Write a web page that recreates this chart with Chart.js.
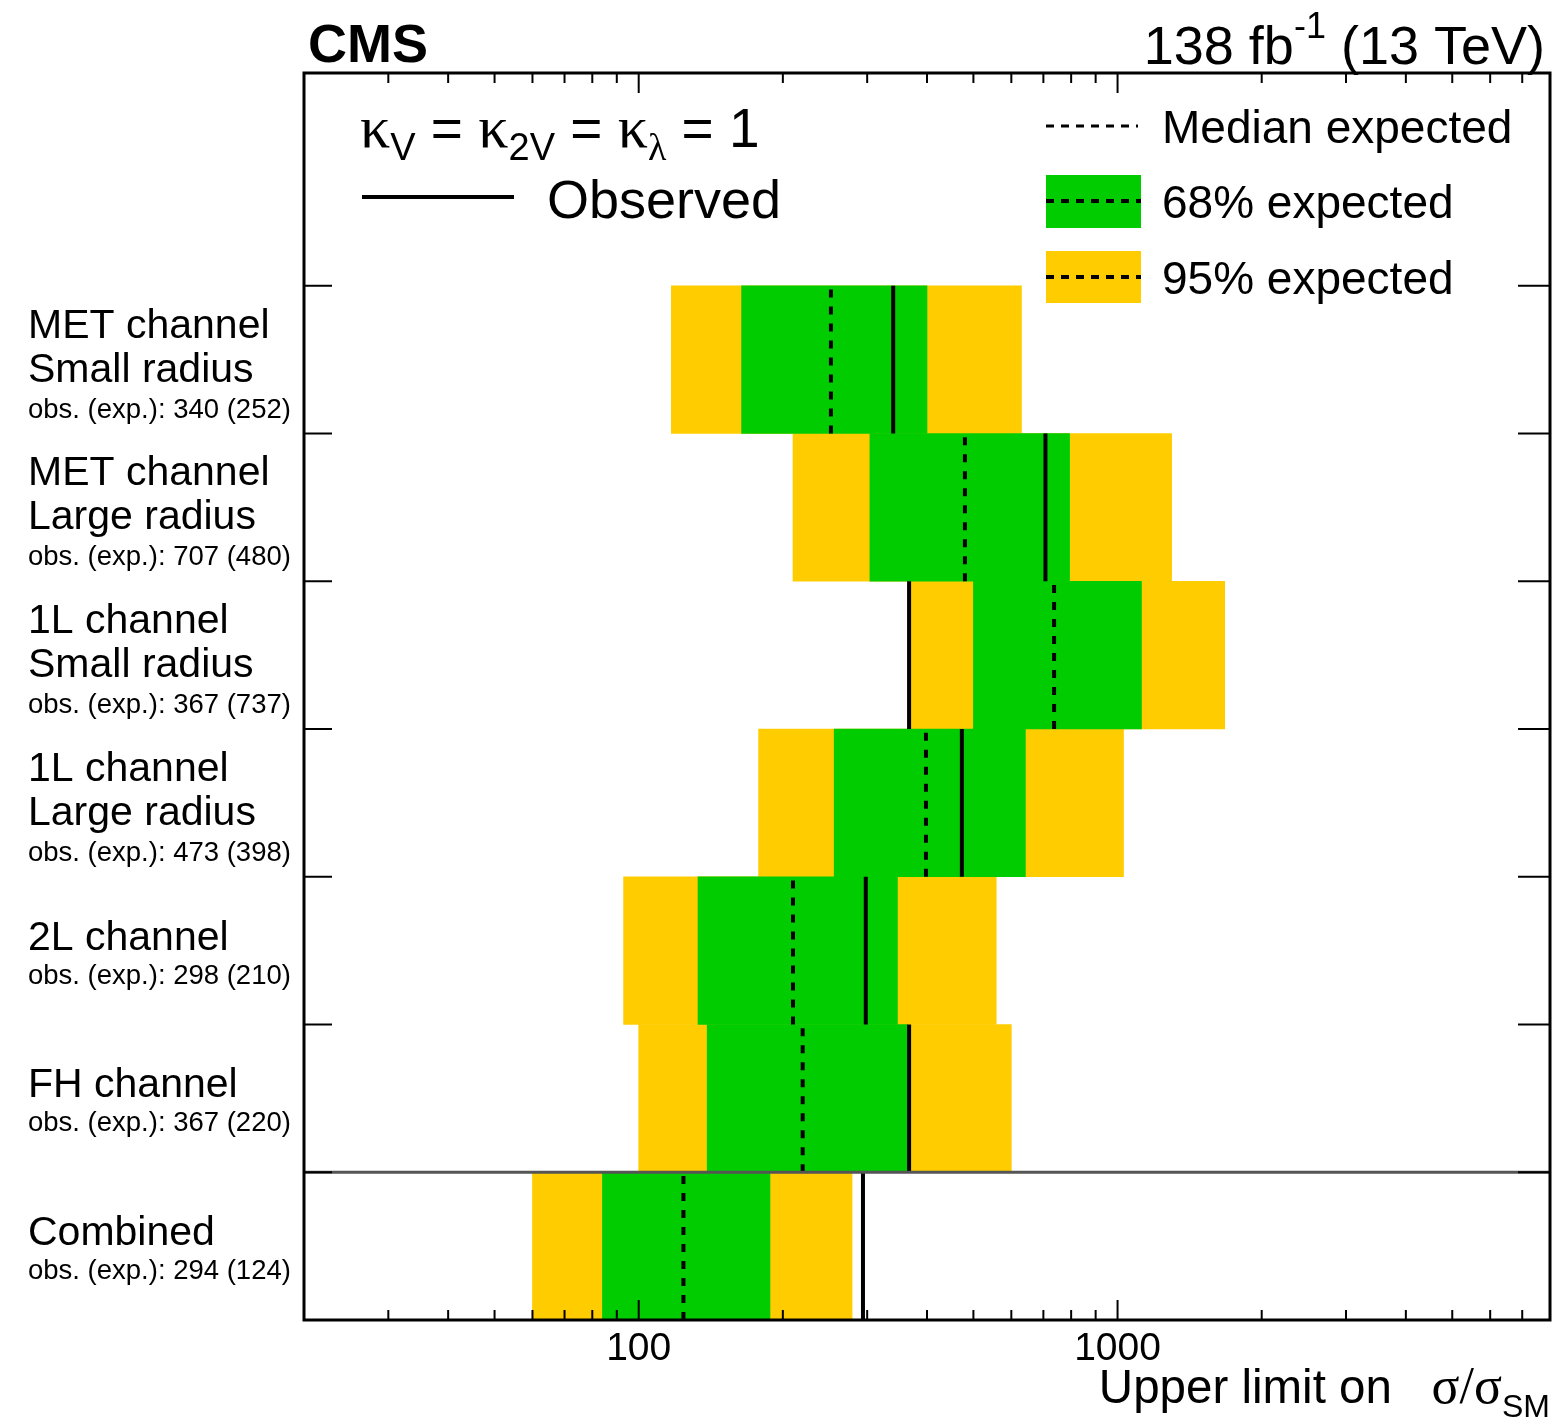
<!DOCTYPE html>
<html>
<head>
<meta charset="utf-8">
<script src="https://cdn.jsdelivr.net/npm/chart.js@4.4.1/dist/chart.umd.min.js"></script>
<style>
  body { margin: 0; background: #fff; }
  canvas { display: block; }
</style>
</head>
<body>
<canvas id="myChart" width="1557" height="1421"></canvas>
<script>
// channels, top row first
const rowLabels = [
  ['MET channel', 'Small radius'],
  ['MET channel', 'Large radius'],
  ['1L channel', 'Small radius'],
  ['1L channel', 'Large radius'],
  ['2L channel'],
  ['FH channel'],
  ['Combined']
];
const observed = [340, 707, 367, 473, 298, 367, 294];
const expected = [252, 480, 737, 398, 210, 220, 124];
const lo68 = [164, 304, 500, 256, 133, 139, 84];
const hi68 = [400, 794, 1122, 642, 347, 364, 188];
const lo95 = [117, 210, 364, 178, 93, 100, 60];
const hi95 = [630, 1297, 1674, 1029, 558, 600, 279];

// x axis ticks
const xTickValues = [20, 30, 40, 50, 60, 70, 80, 90, 100, 200, 300, 400, 500, 600, 700, 800, 900,
  1000, 2000, 3000, 4000, 5000, 6000, 7000, 8000];
const xLabelValues = [100, 1000];
const xTickLabels = ['100', '1000'];

const SANS = "'Liberation Sans', Arial, Helvetica, sans-serif";
const SERIF = "'Liberation Serif', 'Times New Roman', serif";
const nRows = rowLabels.length;
const rowCenter = k => nRows - k - 0.5;

// one vertical segment per row, broken by null points
function rowSegments(vals) {
  const out = [];
  vals.forEach((v, k) => {
    out.push({x: v, y: nRows - k - 1});
    out.push({x: v, y: nRows - k});
    out.push({x: null, y: nRows - k});
  });
  return out;
}

// draw text made of pieces (sub/superscripts)
function drawRich(ctx, x, y, parts, align) {
  let w = 0;
  parts.forEach(p => { ctx.font = p.font; p.w = ctx.measureText(p.t).width; w += p.w; });
  let cx = align === 'right' ? x - w : x;
  ctx.textAlign = 'left';
  ctx.textBaseline = 'alphabetic';
  parts.forEach(p => {
    ctx.font = p.font;
    ctx.fillText(p.t, cx, y + (p.dy || 0));
    cx += p.w;
  });
}

const cmsDecor = {
  id: 'cmsDecor',
  afterDraw(chart) {
    const { ctx, chartArea: a, scales } = chart;
    const xs = scales.x, ys = scales.y;
    ctx.save();
    ctx.fillStyle = '#000';
    ctx.strokeStyle = '#000';
    const seg = (x1, y1, x2, y2) => { ctx.beginPath(); ctx.moveTo(x1, y1); ctx.lineTo(x2, y2); ctx.stroke(); };

    // ticks on all four sides, pointing inward
    ctx.lineWidth = 2;
    xs.ticks.forEach(t => {
      const px = xs.getPixelForValue(t.value);
      const len = xLabelValues.includes(t.value) ? 20 : 10;
      seg(px, a.bottom, px, a.bottom - len);
      seg(px, a.top, px, a.top + len);
    });
    ys.ticks.forEach(t => {
      const py = ys.getPixelForValue(t.value);
      seg(a.left, py, a.left + 28, py);
      seg(a.right, py, a.right - 32, py);
    });

    // frame
    ctx.lineWidth = 3;
    ctx.strokeRect(a.left, a.top, a.right - a.left, a.bottom - a.top);

    // row labels
    ctx.textAlign = 'left';
    ctx.textBaseline = 'alphabetic';
    rowLabels.forEach((lines, k) => {
      const cy = ys.getPixelForValue(rowCenter(k));
      const big = lines.length === 2 ? [cy - 22, cy + 22] : [cy - 1];
      ctx.font = '41px ' + SANS;
      lines.forEach((s, i) => ctx.fillText(s, 28, big[i]));
      ctx.font = '27.5px ' + SANS;
      const sy = lines.length === 2 ? cy + 58 : cy + 33;
      ctx.fillText('obs. (exp.): ' + observed[k] + ' (' + expected[k] + ')', 28, sy);
    });

    // CMS and lumi
    ctx.font = 'bold 54px ' + SANS;
    ctx.fillText('CMS', 308, 62);
    drawRich(ctx, 1545, 64, [
      {t: '138 fb', font: '54px ' + SANS},
      {t: '-1', font: '36px ' + SANS, dy: -26},
      {t: ' (13 TeV)', font: '54px ' + SANS}
    ], 'right');

    // x title
    drawRich(ctx, 1550, 1403, [
      {t: 'Upper limit on   ', font: '47.5px ' + SANS},
      {t: '\u03c3/\u03c3', font: '52px ' + SERIF},
      {t: 'SM', font: '32px ' + SANS, dy: 14}
    ], 'right');

    // left legend
    drawRich(ctx, 360, 147, [
      {t: '\u03ba', font: '60px ' + SERIF},
      {t: 'V', font: '38px ' + SANS, dy: 13},
      {t: ' = ', font: '55px ' + SANS},
      {t: '\u03ba', font: '60px ' + SERIF},
      {t: '2V', font: '38px ' + SANS, dy: 13},
      {t: ' = ', font: '55px ' + SANS},
      {t: '\u03ba', font: '60px ' + SERIF},
      {t: '\u03bb', font: '38px ' + SERIF, dy: 13},
      {t: ' = 1', font: '55px ' + SANS}
    ], 'left');
    ctx.lineWidth = 4;
    seg(362, 197, 514, 197);
    ctx.font = '54px ' + SANS;
    ctx.fillText('Observed', 547, 218);

    // right legend
    ctx.setLineDash([8, 7]);
    ctx.lineWidth = 3;
    seg(1046, 126, 1138, 126);
    ctx.fillStyle = '#00cc00';
    ctx.fillRect(1046, 175, 95, 53);
    ctx.fillStyle = '#ffcc00';
    ctx.fillRect(1046, 251, 95, 52);
    ctx.lineWidth = 4;
    seg(1046, 201, 1141, 201);
    seg(1046, 277, 1141, 277);
    ctx.setLineDash([]);
    ctx.fillStyle = '#000';
    ctx.font = '46px ' + SANS;
    ctx.fillText('Median expected', 1162, 143);
    ctx.fillText('68% expected', 1162, 218);
    ctx.fillText('95% expected', 1162, 294);

    ctx.restore();
  }
};

const datas = {
  datasets: [
    {
      type: 'line',
      label: 'separator',
      data: [{x: 20, y: 1}, {x: 8000, y: 1}],
      borderColor: '#555555',
      borderWidth: 3,
      pointRadius: 0,
      indexAxis: 'y',
      order: 0
    },
    {
      type: 'line',
      label: 'Observed',
      data: rowSegments(observed),
      borderColor: '#000',
      borderWidth: 4,
      pointRadius: 0,
      spanGaps: false,
      indexAxis: 'y',
      order: 1
    },
    {
      type: 'line',
      label: 'Median expected',
      data: rowSegments(expected),
      borderColor: '#000',
      borderWidth: 4,
      borderDash: [8, 9],
      pointRadius: 0,
      spanGaps: false,
      indexAxis: 'y',
      order: 2
    },
    {
      type: 'bar',
      label: '68% expected',
      data: rowLabels.map((_, k) => ({y: rowCenter(k), x: [lo68[k], hi68[k]]})),
      backgroundColor: '#00cc00',
      grouped: false,
      barPercentage: 1,
      categoryPercentage: 1,
      borderWidth: 0,
      indexAxis: 'y',
      order: 3
    },
    {
      type: 'bar',
      label: '95% expected',
      data: rowLabels.map((_, k) => ({y: rowCenter(k), x: [lo95[k], hi95[k]]})),
      backgroundColor: '#ffcc00',
      grouped: false,
      barPercentage: 1,
      categoryPercentage: 1,
      borderWidth: 0,
      indexAxis: 'y',
      order: 4
    }
  ]
};

const config = {
  type: 'bar',
  data: datas,
  options: {
    indexAxis: 'y',
    responsive: false,
    animation: false,
    events: [],
    layout: { padding: { left: 0, top: 73, right: 7, bottom: 0 } },
    plugins: { legend: { display: false }, tooltip: { enabled: false } },
    scales: {
      x: {
        type: 'logarithmic',
        position: 'bottom',
        min: 20,
        max: 8000,
        offset: false,
        grid: { display: false, drawTicks: false },
        border: { display: false },
        afterBuildTicks: s => { s.ticks = xTickValues.map(v => ({value: v})); },
        afterFit: s => { s.height = 101; },
        ticks: {
          autoSkip: false,
          maxRotation: 0,
          padding: 6,
          color: '#000',
          font: { family: SANS, size: 39 },
          callback: v => {
            const i = xLabelValues.indexOf(v);
            return i >= 0 ? xTickLabels[i] : '';
          }
        }
      },
      y: {
        type: 'linear',
        min: 0,
        max: 8.44,
        offset: false,
        grid: { display: false, drawTicks: false, offset: false },
        border: { display: false },
        afterBuildTicks: s => { s.ticks = [1, 2, 3, 4, 5, 6, 7].map(v => ({value: v})); },
        afterFit: s => { s.width = 304; },
        ticks: { display: false }
      }
    }
  },
  plugins: [cmsDecor]
};

const myChart = new Chart(document.getElementById('myChart'), config);
</script>
</body>
</html>
